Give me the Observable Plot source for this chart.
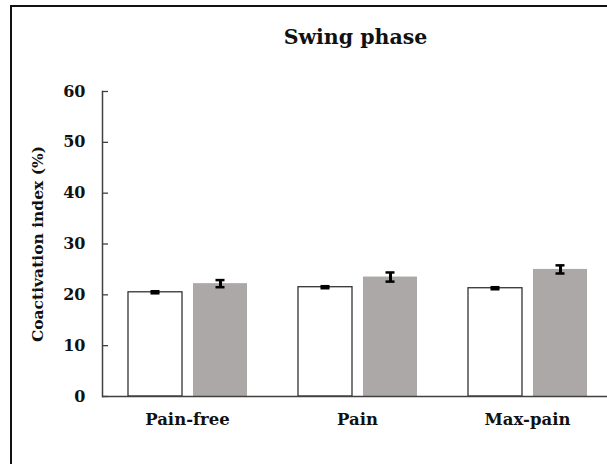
<!DOCTYPE html>
<html><head><meta charset="utf-8">
<script src="https://cdn.jsdelivr.net/npm/d3@7"></script>
<script src="https://cdn.jsdelivr.net/npm/@observablehq/plot@0.6"></script>
<style>
html,body{margin:0;padding:0;background:#fff;}
#wrap{position:relative;width:607px;height:464px;overflow:hidden;font-family:"DejaVu Serif",serif;color:#111;}
#chart{position:absolute;left:0;top:0;}
#border{position:absolute;left:10px;top:5px;width:700px;height:600px;border:2px solid #111;box-sizing:border-box;pointer-events:none;}
#title{position:absolute;left:102px;width:507px;top:26px;line-height:22px;text-align:center;font-weight:bold;font-size:20.5px;}
#ylab{position:absolute;left:37px;top:244px;transform:translate(-50%,-50%) rotate(-90deg);white-space:nowrap;font-weight:bold;font-size:15.5px;}
</style>
</head><body>
<div id="wrap">
  <div id="chart"></div>
  <div id="title">Swing phase</div>
  <div id="ylab">Coactivation index (%)</div>
  <div id="border"></div>
</div>
<script>
const groups = ["Pain-free", "Pain", "Max-pain"];
const series = ["A", "B"];
const valuesA = [20.5, 21.5, 21.3];
const errorsA = [0.2, 0.2, 0.2];
const valuesB = [22.2, 23.5, 25.0];
const errorsB = [0.7, 0.9, 0.8];
const yTicks = [0, 10, 20, 30, 40, 50, 60];

const rows = groups.flatMap((g, i) => [
  {group: g, series: series[0], value: valuesA[i], err: errorsA[i]},
  {group: g, series: series[1], value: valuesB[i], err: errorsB[i]}
]);

const chart = Plot.plot({
  width: 607, height: 464,
  marginTop: 91, marginBottom: 68, marginLeft: 102, marginRight: -5,
  style: {background: "transparent", fontFamily: "'DejaVu Serif', serif", color: "#111"},
  fx: {domain: groups, padding: 0, label: null},
  x: {domain: series, paddingInner: 0.17, paddingOuter: 0.39, axis: null},
  y: {domain: [0, 60], axis: null},
  marks: [
    Plot.barY(rows.filter(d => d.series === series[0]), {fx: "group", x: "series", y: "value", fill: "white", stroke: "#333", strokeWidth: 1.3}),
    Plot.barY(rows.filter(d => d.series === series[1]), {fx: "group", x: "series", y: "value", fill: "#aca8a7"}),
    Plot.ruleX(rows, {fx: "group", x: "series", y1: d => d.value - d.err, y2: d => d.value + d.err, stroke: "#000", strokeWidth: 3}),
    Plot.tickY(rows, {fx: "group", x: "series", y: d => d.value - d.err, insetLeft: 22.5, insetRight: 22.5, stroke: "#000", strokeWidth: 2.5}),
    Plot.tickY(rows, {fx: "group", x: "series", y: d => d.value + d.err, insetLeft: 22.5, insetRight: 22.5, stroke: "#000", strokeWidth: 2.5}),
    Plot.ruleY([0], {stroke: "#404040", strokeWidth: 1.5}),
    Plot.frame({anchor: "left", facetAnchor: "left", stroke: "#404040", strokeWidth: 1.5}),
    Plot.axisY(yTicks, {tickSize: 6, dx: 6, text: null, stroke: "#404040", strokeWidth: 1.3, label: null}),
    Plot.axisY(yTicks, {tickSize: 0, tickPadding: 17, fontSize: 16, fontWeight: "bold", label: null}),
    Plot.axisFx({anchor: "bottom", tickSize: 0, tickPadding: 17, fontSize: 16.5, fontWeight: "bold", label: null})
  ]
});
document.getElementById("chart").appendChild(chart);
</script>
</body></html>
